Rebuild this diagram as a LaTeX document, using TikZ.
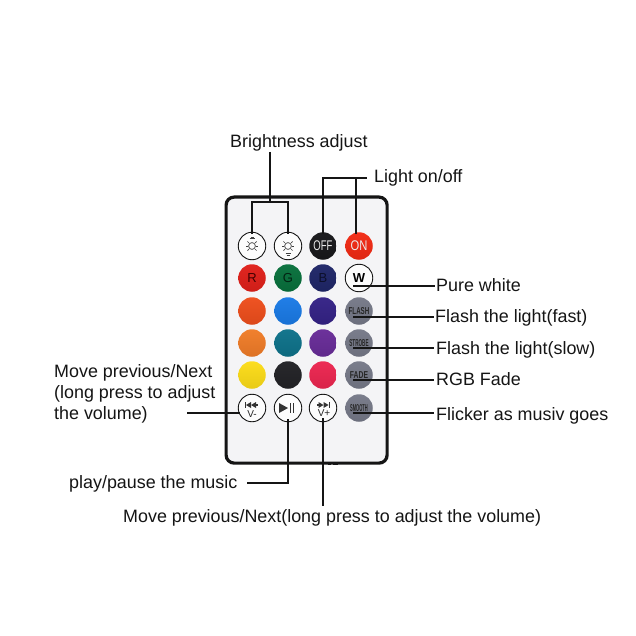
\documentclass[tikz,border=0pt]{standalone}
\usepackage{fontspec}
\usetikzlibrary{calc}
\setmainfont{Liberation Sans}
\definecolor{ink}{HTML}{151515}
\definecolor{bodyc}{HTML}{F4F4F6}
\definecolor{gbtn}{HTML}{767988}
\definecolor{cR}{HTML}{E0201A}
\definecolor{cG}{HTML}{08703C}
\definecolor{cB}{HTML}{1F2668}
\definecolor{cON}{HTML}{F22A14}
\definecolor{cOFF}{HTML}{17171A}
\definecolor{cA}{HTML}{EE4E1C}
\definecolor{cBl}{HTML}{1A7AE6}
\definecolor{cC}{HTML}{342286}
\definecolor{cD}{HTML}{F07C28}
\definecolor{cE}{HTML}{0E728A}
\definecolor{cF}{HTML}{682C98}
\definecolor{cH}{HTML}{FCDC18}
\definecolor{cI}{HTML}{222226}
\definecolor{cJ}{HTML}{EC2650}
\newcommand{\nrw}[2]{\scalebox{#1}[1]{#2}}
\tikzset{
 lbl/.style={font=\fontsize{17.9}{21}\selectfont,text=ink,inner sep=0pt},
 lead/.style={draw=ink,line width=1.3pt},
 btn/.style={circle,minimum size=27.5pt,inner sep=0pt,font=\fontsize{13}{13}\selectfont},
 cbtn/.style={btn,top color=#1!97!white,bottom color=#1!92!black,shading angle=0},
 ring/.style={btn,draw=ink,line width=0.9pt,fill=white!70!bodyc},
 grey/.style={cbtn=gbtn,text=black!85,font=\fontsize{10}{10}\selectfont\bfseries},
 sunray/.style={draw=black!75,line width=0.7pt},
 glyph/.style={fill=black!80,draw=none},
 vlab/.style={inner sep=0pt,text=black!85,font=\fontsize{10}{10}\selectfont},
}
\begin{document}
\begin{tikzpicture}[x=1pt,y=-1pt]
\useasboundingbox[fill=white] (0,0) rectangle (636,636);
\node[draw=ink,line width=3.2pt,fill=bodyc,rounded corners=8pt,minimum width=161pt,minimum height=266pt,inner sep=0pt,anchor=north west] (remote) at (224.5,195.5) {};
\draw[ink,line width=1.5pt] (328,464) -- (331,464) (333,464) -- (338,464);
% row 1
\node[ring] (bdown) at (252,246) {};
\node[ring] (bup) at (288,246) {};
\foreach \n/\s in {bdown/-7.5,bup/7.5}{
  \draw[sunray] (\n) circle (3.4pt);
  \foreach \a in {0,45,135,180,225,315}{
    \draw[sunray] (\n) ++(\a:4.4pt) -- ++(\a:2pt);
  }
  \draw[sunray,line width=0.6pt] ($(\n)+(-2.5,\s)$) -- ++(5,0);
  \draw[sunray,line width=0.6pt] ($(\n)+(-1.5,\s*1.2)$) -- ++(3,0);
}
\node[cbtn=cOFF,text=white!92!black] (off) at (323,246) {\fontsize{14}{14}\selectfont\nrw{0.68}{OFF}};
\node[cbtn=cON,text=white!92!black] (on) at (359,246) {\fontsize{14}{14}\selectfont\nrw{0.8}{ON}};
% row 2
\node[cbtn=cR,text=black!75!red] (r) at (252,278) {R};
\node[cbtn=cG,text=black!70!cG] (g) at (288,278) {G};
\node[cbtn=cB,text=black!60!cB] (b) at (323,278) {B};
\node[ring] (w) at (359,278) {\fontsize{13}{13}\selectfont\bfseries W};
% row 3
\node[cbtn=cA] (c1) at (252,311) {};
\node[cbtn=cBl] (c2) at (288,311) {};
\node[cbtn=cC] (c3) at (323,311) {};
\node[grey] (flash) at (359,311) {\nrw{0.62}{FLASH}};
% row 4
\node[cbtn=cD] (c4) at (252,343) {};
\node[cbtn=cE] (c5) at (288,343) {};
\node[cbtn=cF] (c6) at (323,343) {};
\node[grey] (strobe) at (359,343) {\nrw{0.46}{STROBE}};
% row 5
\node[cbtn=cH] (c7) at (252,375) {};
\node[cbtn=cI] (c8) at (288,375) {};
\node[cbtn=cJ] (c9) at (323,375) {};
\node[grey] (fade) at (359,375) {\nrw{0.68}{FADE}};
% row 6
\node[ring] (prev) at (252,408) {};
\node[ring] (play) at (288,408) {};
\node[ring] (next) at (323,408) {};
\node[grey] (smooth) at (359,408) {\nrw{0.4}{SMOOTH}};
\node[vlab] (vminus) at (252,414) {V-};
\node[vlab] (vplus) at (324,413) {V+};
\fill[glyph] (245,402) rectangle (246,408);
\fill[glyph] (246,405) -- (251,402) -- (251,408) -- cycle;
\fill[glyph] (251,405) -- (256,402) -- (256,408) -- cycle;
\fill[glyph] (256,404.4) rectangle (258,405.6);
\fill[glyph] (328.5,402) rectangle (329.5,408);
\fill[glyph] (328.5,405) -- (323.5,402) -- (323.5,408) -- cycle;
\fill[glyph] (323.5,405) -- (318.5,402) -- (318.5,408) -- cycle;
\fill[glyph] (316.5,404.4) rectangle (318.5,405.6);
\fill[glyph] (279,403) -- (288,408) -- (279,413) -- cycle;
\fill[glyph] (290,403) rectangle (291.2,413);
\fill[glyph] (293.2,403) rectangle (294.4,413);
% labels
\node[lbl,anchor=base west] (tbright) at (230,148) {Brightness adjust};
\node[lbl,anchor=base west] (tlight) at (374,183) {Light on/off};
\node[lbl,anchor=base west] (twhite) at (436,291) {Pure white};
\node[lbl,anchor=base west] (tfast) at (435,322) {Flash the light(fast)};
\node[lbl,anchor=base west] (tslow) at (436,354) {Flash the light(slow)};
\node[lbl,anchor=base west] (tfade) at (436,385) {RGB Fade};
\node[lbl,anchor=base west] (tflick) at (436,420) {Flicker as musiv goes};
\node[lbl,anchor=base west] (tprev1) at (54,377) {Move previous/Next};
\node[lbl,anchor=base west] (tprev2) at (54,398) {(long press to adjust};
\node[lbl,anchor=base west] (tprev3) at (54,419) {the volume)};
\node[lbl,anchor=base west] (tplay) at (69,488) {play/pause the music};
\node[lbl,anchor=base west] (tnext) at (123,522) {Move previous/Next(long press to adjust the volume)};
% leaders
\coordinate (bj) at (270,202);
\coordinate (lj) at (367,178);
\draw[lead] (270,152) -- (bj);
\draw[lead] (252,234) |- (bj) -| (288,234);
\draw[lead] (323,234) |- (lj);
\draw[lead] (356,234) -- (356,178);
\draw[lead] (353,286) -- (435,286);
\draw[lead] (353,317) -- (434,317);
\draw[lead] (353,348) -- (434,348);
\draw[lead] (353,380) -- (434,380);
\draw[lead] (353,413) -- (434,413);
\draw[lead] (187,413) -- (240,413);
\draw[lead] (288,419) |- (247,483);
\draw[lead] (323,418) -- (323,506);
\end{tikzpicture}
\end{document}
